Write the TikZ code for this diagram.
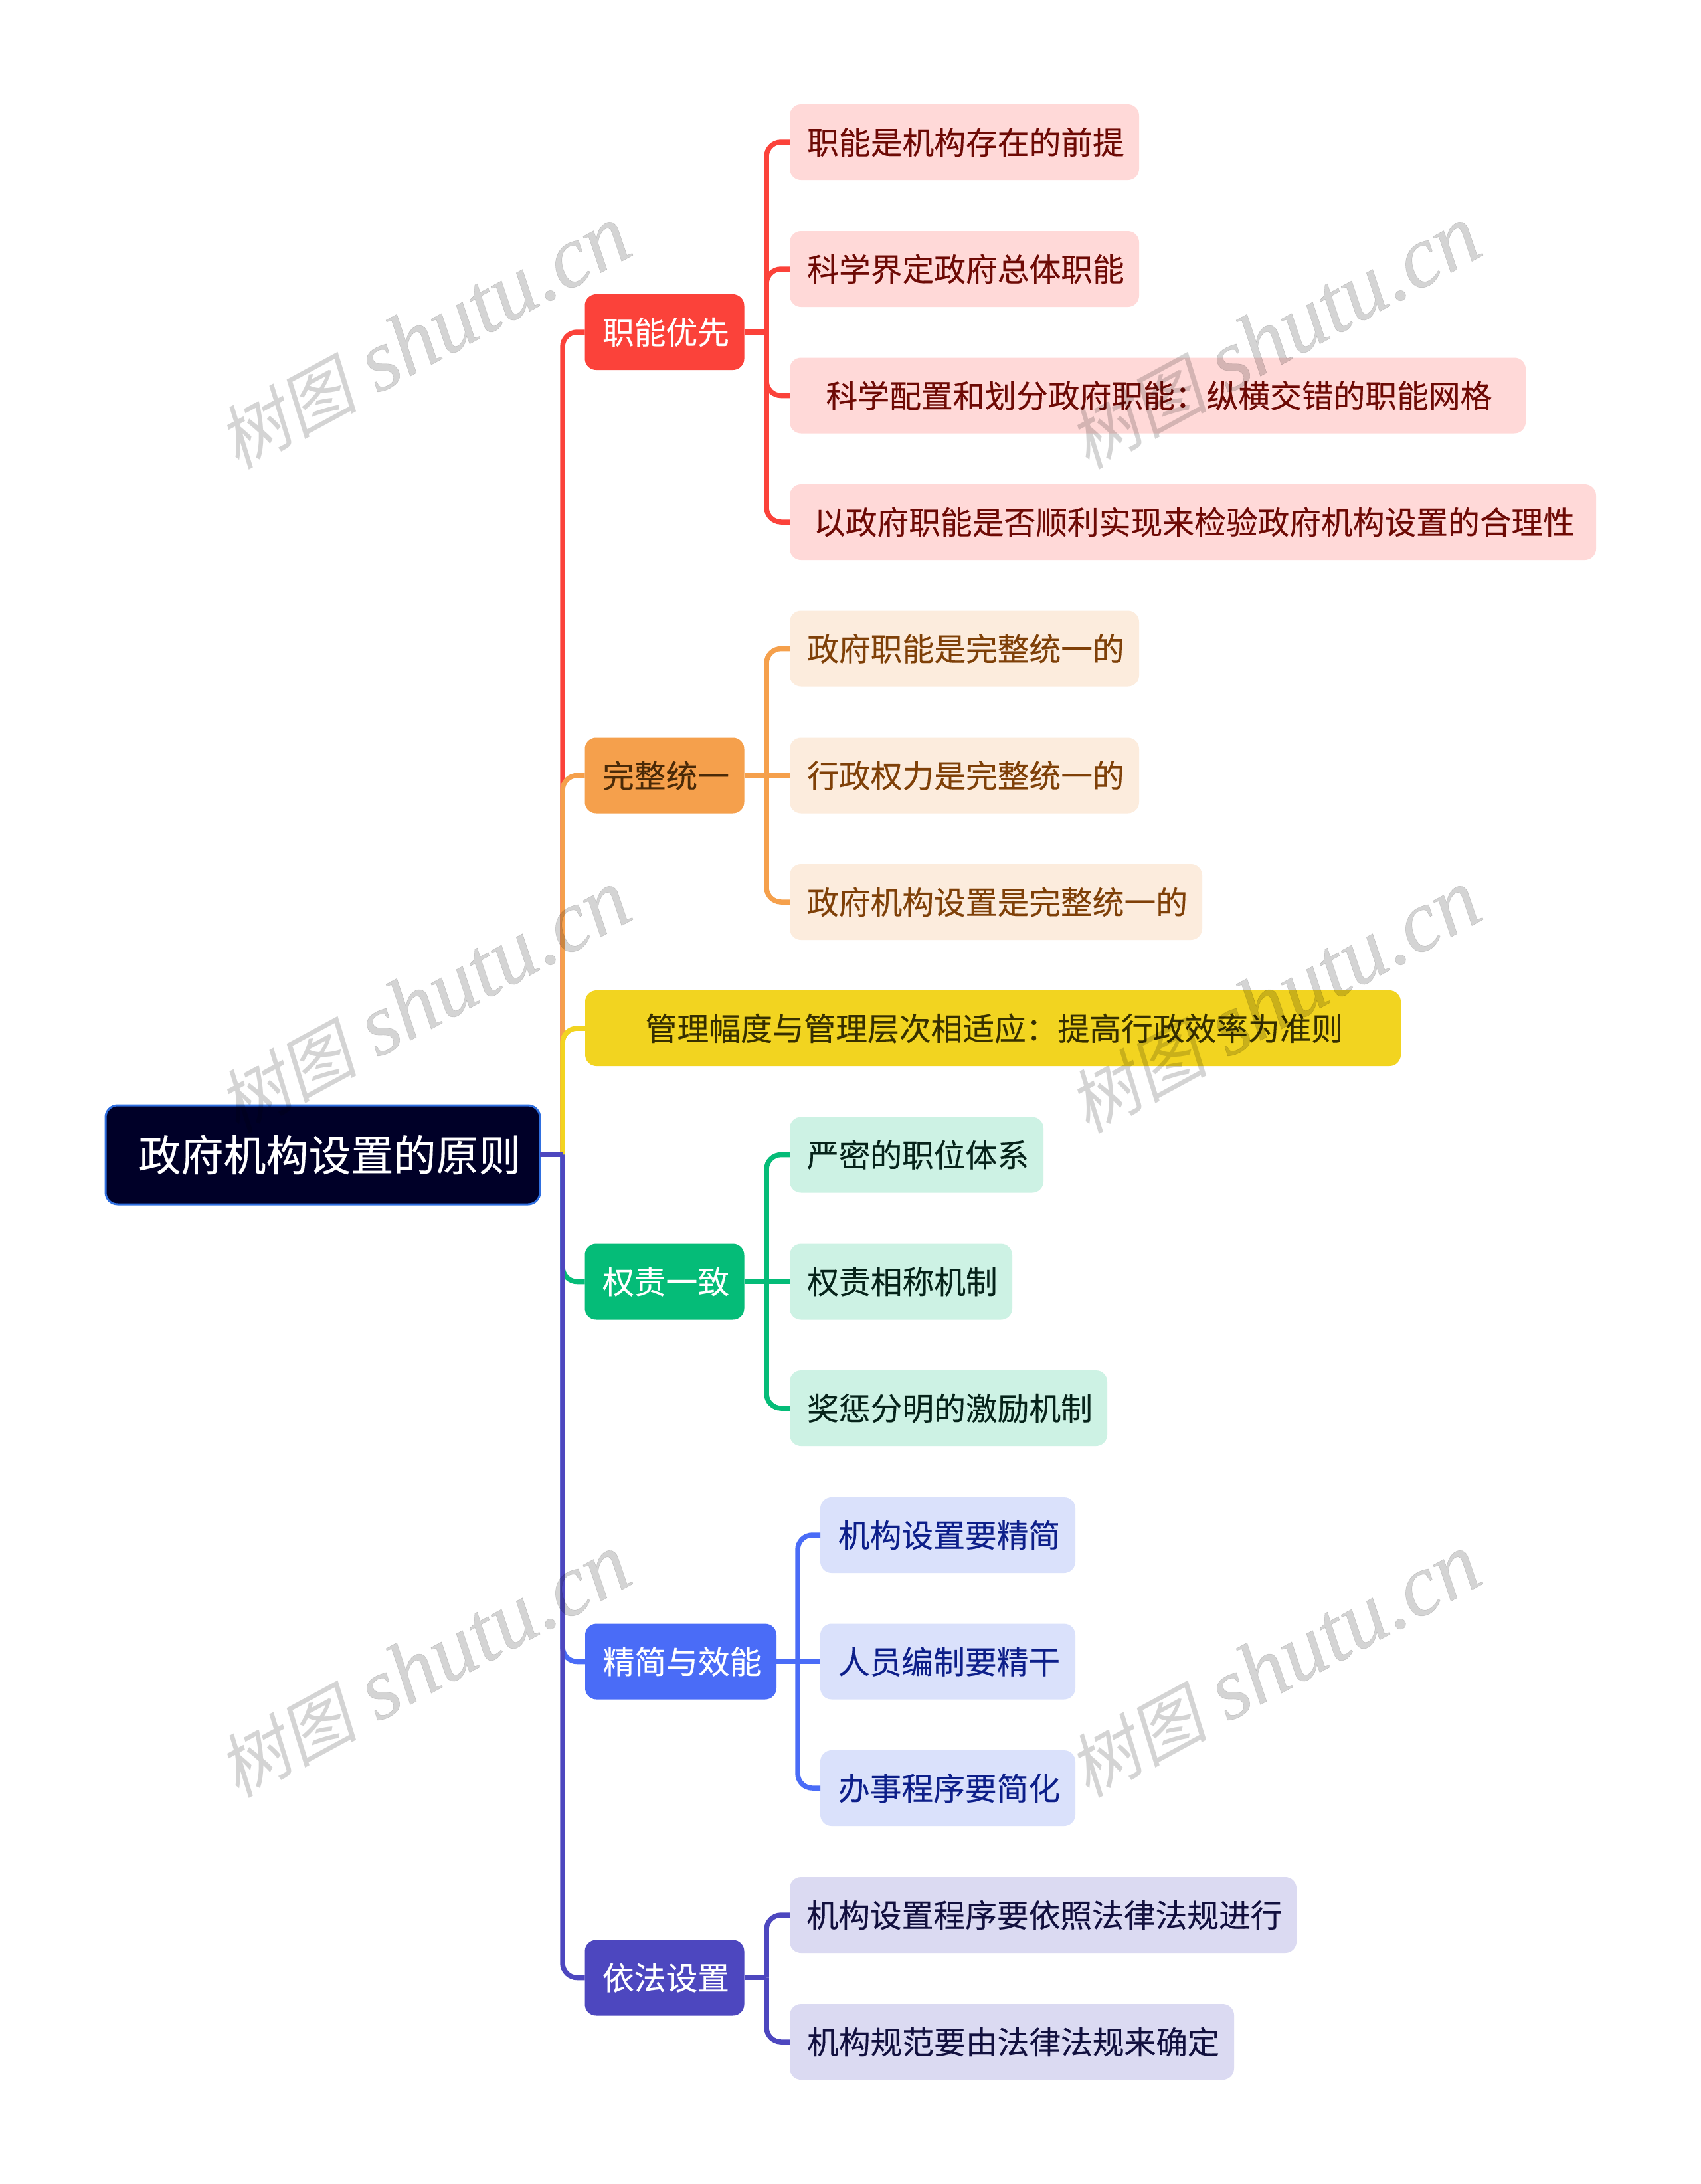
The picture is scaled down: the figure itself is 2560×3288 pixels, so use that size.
\documentclass[tikz,border=0pt]{standalone}
\usepackage{fontspec}
\setmainfont[FakeBold=0.25]{Noto Sans CJK SC}
\newfontfamily\wmcjk[FakeSlant=0.2]{Noto Sans CJK SC}
\newfontfamily\wmlat[FakeBold=0.3]{Liberation Serif}
\usetikzlibrary{calc}
\definecolor{cRed}{HTML}{FB423A}\definecolor{cRedL}{HTML}{FFD9D8}\definecolor{cRedT}{HTML}{6E0A05}
\definecolor{cOra}{HTML}{F5A04C}\definecolor{cOraL}{HTML}{FCECDD}\definecolor{cOraT}{HTML}{7F4008}
\definecolor{cOraD}{HTML}{4A2A08}
\definecolor{cYel}{HTML}{F2D420}\definecolor{cYelT}{HTML}{362F00}
\definecolor{cGrn}{HTML}{05BC78}\definecolor{cGrnL}{HTML}{CDF2E4}\definecolor{cGrnT}{HTML}{06231A}
\definecolor{cBlu}{HTML}{4A6CF7}\definecolor{cBluL}{HTML}{DAE1FB}\definecolor{cBluT}{HTML}{0D1F8A}
\definecolor{cPur}{HTML}{4D47BF}\definecolor{cPurL}{HTML}{DBDAF2}\definecolor{cPurT}{HTML}{12103F}
\definecolor{cRoot}{HTML}{000028}\definecolor{cRootB}{HTML}{2F6FE0}
\tikzset{
  box/.style={rounded corners=17pt,inner sep=0pt,outer sep=0pt,minimum height=114pt,font=\fontsize{47.75pt}{56pt}\selectfont,execute at begin node=\hspace*{4pt}},
  rootbox/.style={rounded corners=18pt,inner sep=0pt,outer sep=0pt,minimum width=654pt,minimum height=149pt,fill=cRoot,draw=cRootB,line width=3pt,text=white,font=\fontsize{64pt}{72pt}\selectfont},
  link/.style={line width=7.5pt,rounded corners=22pt},
  wm/.style={rotate=28.5,text=black,opacity=.17,inner sep=0pt}
}
\newcommand{\wmtext}{{\fontsize{105pt}{120pt}\wmcjk 树图}\hspace{30pt}{\fontsize{132pt}{140pt}\wmlat\itshape shutu.cn}}
\begin{document}
\begin{tikzpicture}[x=1pt,y=-1pt]
\useasboundingbox (0,0) rectangle (2560,3288);
\fill[white] (0,0) rectangle (2560,3288);
% root
\node[rootbox] (root) at (486,1738.5) {\hspace{21pt}政府机构设置的原则};
% branches
\node[box,fill=cRed,text=white,minimum width=240pt] (b1) at (1000.5,500) {职能优先};
\node[box,fill=cOra,text=cOraD,minimum width=240pt] (b2) at (1000.5,1167.5) {完整统一};
\node[box,fill=cYel,text=cYelT,minimum width=1228pt] (b3) at (1495,1548) {管理幅度与管理层次相适应：提高行政效率为准则};
\node[box,fill=cGrn,text=white,minimum width=240pt] (b4) at (1000.5,1929.5) {权责一致};
\node[box,fill=cBlu,text=white,minimum width=288pt] (b5) at (1025,2501.5) {精简与效能};
\node[box,fill=cPur,text=white,minimum width=240pt] (b6) at (1000.5,2977.5) {依法设置};
% leaves
\tikzset{r/.style={box,fill=cRedL,text=cRedT},o/.style={box,fill=cOraL,text=cOraT},g/.style={box,fill=cGrnL,text=cGrnT},bl/.style={box,fill=cBluL,text=cBluT},p/.style={box,fill=cPurL,text=cPurT}}
\node[r,minimum width=526pt] (a1) at (1452,214) {职能是机构存在的前提};
\node[r,minimum width=526pt] (a2) at (1452,405) {科学界定政府总体职能};
\node[r,minimum width=1108pt] (a3) at (1743,595.5) {科学配置和划分政府职能：纵横交错的职能网格};
\node[r,minimum width=1214pt] (a4) at (1796,786) {以政府职能是否顺利实现来检验政府机构设置的合理性};
\node[o,minimum width=526pt] (c1) at (1452,976.5) {政府职能是完整统一的};
\node[o,minimum width=526pt] (c2) at (1452,1167.5) {行政权力是完整统一的};
\node[o,minimum width=621pt] (c3) at (1499.5,1358) {政府机构设置是完整统一的};
\node[g,minimum width=382pt] (d1) at (1380,1738.5) {严密的职位体系};
\node[g,minimum width=335pt] (d2) at (1356.5,1929.5) {权责相称机制};
\node[g,minimum width=478pt] (d3) at (1428,2120) {奖惩分明的激励机制};
\node[bl,minimum width=384pt] (e1) at (1427,2311) {机构设置要精简};
\node[bl,minimum width=384pt] (e2) at (1427,2501.5) {人员编制要精干};
\node[bl,minimum width=384pt] (e3) at (1427,2692) {办事程序要简化};
\node[p,minimum width=763pt] (f1) at (1570.5,2883) {机构设置程序要依照法律法规进行};
\node[p,minimum width=669pt] (f2) at (1523.5,3074) {机构规范要由法律法规来确定};
% stems
\coordinate (st) at (847,1738.5);
\coordinate (s1) at (1154,500);
\coordinate (s2) at (1154,1167.5);
\coordinate (s4) at (1154,1929.5);
\coordinate (s5) at (1201,2501.5);
\coordinate (s6) at (1154,2977.5);
% trunk links
\draw[link,cRed] (st) |- (b1.west);
\draw[link,cOra] (st) |- (b2.west);
\draw[link,cYel] (st) |- (b3.west);
\draw[link,cGrn] (st) |- (b4.west);
\draw[link,cBlu] (st) |- (b5.west);
\draw[link,cPur] (st) |- (b6.west);
\draw[line width=7.5pt,cPur] (root.east) -- (st);
% leaf links
\draw[link,cRed] (b1.east) -- (s1);
\draw[link,cRed] (s1) |- (a1.west);
\draw[link,cRed] (s1) |- (a2.west);
\draw[link,cRed] (s1) |- (a3.west);
\draw[link,cRed] (s1) |- (a4.west);
\draw[link,cOra] (s2) |- (c1.west);
\draw[link,cOra] (b2.east) -- (c2.west);
\draw[link,cOra] (s2) |- (c3.west);
\draw[link,cGrn] (s4) |- (d1.west);
\draw[link,cGrn] (b4.east) -- (d2.west);
\draw[link,cGrn] (s4) |- (d3.west);
\draw[link,cBlu] (s5) |- (e1.west);
\draw[link,cBlu] (b5.east) -- (e2.west);
\draw[link,cBlu] (s5) |- (e3.west);
\draw[link,cPur] (b6.east) -- (s6);
\draw[link,cPur] (s6) |- (f1.west);
\draw[link,cPur] (s6) |- (f2.west);
% watermarks
\foreach \x/\y [count=\i] in {638/508,1918/508,638/1508,1918/1508,638/2508,1918/2508}
  \node[wm] (w\i) at (\x,\y) {\wmtext};
\end{tikzpicture}
\end{document}
